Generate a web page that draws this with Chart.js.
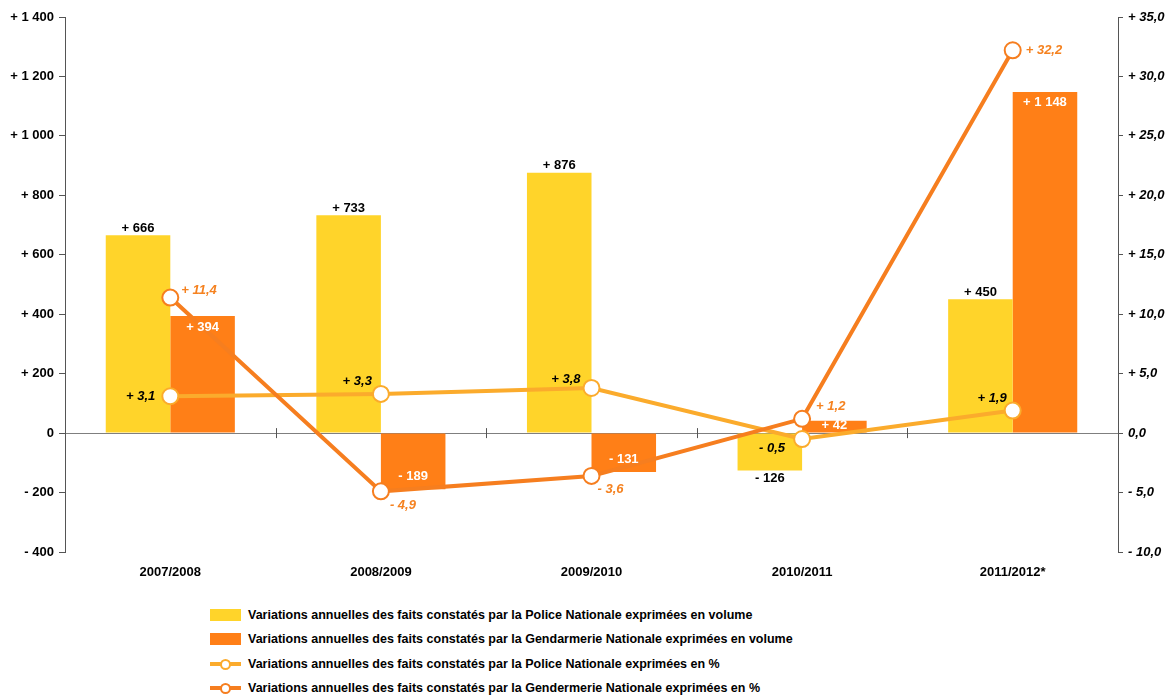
<!DOCTYPE html>
<html lang="fr">
<head>
<meta charset="UTF-8">
<title>Variations annuelles des faits constatés</title>
<script src="https://cdn.jsdelivr.net/npm/chart.js"></script>
<style>
  body { margin: 0; background: #fff; font-family: "Liberation Sans", Arial, sans-serif; }
  #wrap { position: relative; width: 1172px; height: 695px; }
  #box { position: absolute; left: 0; top: 0; width: 1172px; height: 600px; }
  .legende { position: absolute; left: 210px; top: 603px; font-size: 12.5px; font-weight: bold; color: #000; }
  .item { height: 24.3px; display: flex; align-items: center; }
  .sw { width: 31px; height: 12px; margin-right: 7px; position: relative; }
  .ln { width: 31px; height: 12px; margin-right: 7px; position: relative; }
  .ln::before { content: ""; position: absolute; left: 0; right: 0; top: 4px; height: 4px; background: var(--c); }
  .ln::after { content: ""; position: absolute; left: 10px; top: 1px; width: 7px; height: 7px; border: 2px solid var(--c); border-radius: 50%; background: #fff; }
</style>
</head>
<body>
<div id="wrap">
  <div id="box"><canvas id="graphe"></canvas></div>
  <div class="legende">
    <div class="item"><span class="sw" style="background:#FFD42A"></span>Variations annuelles des faits constatés par la Police Nationale exprimées en volume</div>
    <div class="item"><span class="sw" style="background:#FF7F17"></span>Variations annuelles des faits constatés par la Gendarmerie Nationale exprimées en volume</div>
    <div class="item"><span class="ln" style="--c:#FBAB2C"></span>Variations annuelles des faits constatés par la Police Nationale exprimées en %</div>
    <div class="item"><span class="ln" style="--c:#F67E1F"></span>Variations annuelles des faits constatés par la Gendermerie Nationale exprimées en %</div>
  </div>
</div>

<script>
// données
const annees = ['2007/2008', '2008/2009', '2009/2010', '2010/2011', '2011/2012*'];
const policeVolume = [666, 733, 876, -126, 450];
const gendarmerieVolume = [394, -189, -131, 42, 1148];
const policePct = [3.1, 3.3, 3.8, -0.5, 1.9];
const gendarmeriePct = [11.4, -4.9, -3.6, 1.2, 32.2];

// décalage des étiquettes des courbes (dx, dy)
const decalPolice = [[-15, 0], [-9, -12], [-11, -9], [-17, 9], [-6, -12]];
const decalGendarmerie = [[11, -7], [9, 14], [6, 14], [14, -12], [13, 0]];

function fmtVolume(v) {
  if (v === 0) return '0';
  const s = Math.abs(v).toString().replace(/\B(?=(\d{3})+(?!\d))/g, ' ');
  return (v > 0 ? '+ ' : '- ') + s;
}
function fmtPct(v) {
  const s = Math.abs(v).toFixed(1).replace('.', ',');
  if (Math.abs(v) < 1e-9) return s;
  return (v > 0 ? '+ ' : '- ') + s;
}

const etiquettes = {
  id: 'etiquettes',
  afterDatasetsDraw(chart) {
    const ctx = chart.ctx;
    ctx.save();
    ctx.textBaseline = 'middle';
    // barres police
    ctx.font = 'bold 13px "Liberation Sans", Arial';
    ctx.textAlign = 'center';
    chart.getDatasetMeta(0).data.forEach((el, i) => {
      const v = policeVolume[i];
      ctx.fillStyle = '#000';
      ctx.fillText(fmtVolume(v), el.x, v >= 0 ? el.y - 7 : el.y + 8);
    });
    // barres gendarmerie
    chart.getDatasetMeta(1).data.forEach((el, i) => {
      const v = gendarmerieVolume[i];
      ctx.fillStyle = '#fff';
      let y = v >= 0 ? el.y + 11 : el.y - 13;
      if (v >= 0 && el.base - el.y < 22) y = el.y + 5;
      ctx.fillText(fmtVolume(v), el.x, y);
    });
    // courbes
    ctx.font = 'italic bold 13px "Liberation Sans", Arial';
    ctx.textAlign = 'right';
    ctx.fillStyle = '#000';
    chart.getDatasetMeta(2).data.forEach((el, i) => {
      ctx.fillText(fmtPct(policePct[i]), el.x + decalPolice[i][0], el.y + decalPolice[i][1]);
    });
    ctx.textAlign = 'left';
    ctx.fillStyle = '#F58220';
    chart.getDatasetMeta(3).data.forEach((el, i) => {
      ctx.fillText(fmtPct(gendarmeriePct[i]), el.x + decalGendarmerie[i][0], el.y + decalGendarmerie[i][1]);
    });
    ctx.restore();
  },
  beforeDatasetsDraw(chart) {
    // petites graduations de l'axe des catégories sur la ligne du zéro
    const ctx = chart.ctx;
    const x = chart.scales.x;
    const y0 = chart.scales.y.getPixelForValue(0);
    ctx.save();
    ctx.strokeStyle = '#555';
    ctx.lineWidth = 1;
    for (let i = 0; i < annees.length - 1; i++) {
      const px = Math.round((x.getPixelForValue(i) + x.getPixelForValue(i + 1)) / 2) + 0.5;
      ctx.beginPath();
      ctx.moveTo(px, y0 - 5);
      ctx.lineTo(px, y0 + 5);
      ctx.stroke();
    }
    ctx.restore();
  }
};

Chart.defaults.font.family = '"Liberation Sans", Arial, sans-serif';
Chart.defaults.color = '#000';

new Chart(document.getElementById('graphe'), {
  type: 'bar',
  data: {
    labels: annees,
    datasets: [
      {
        label: 'Police volume',
        data: policeVolume,
        backgroundColor: '#FFD42A',
        yAxisID: 'y',
        order: 2
      },
      {
        label: 'Gendarmerie volume',
        data: gendarmerieVolume,
        backgroundColor: '#FF7F17',
        yAxisID: 'y',
        order: 2
      },
      {
        type: 'line',
        label: 'Police %',
        data: policePct,
        borderColor: '#FBAB2C',
        borderWidth: 4,
        pointRadius: 8,
        pointBorderWidth: 2,
        pointBackgroundColor: '#fff',
        pointBorderColor: '#FBAB2C',
        yAxisID: 'y1',
        order: 1
      },
      {
        type: 'line',
        label: 'Gendarmerie %',
        data: gendarmeriePct,
        borderColor: '#F67E1F',
        borderWidth: 4,
        pointRadius: 8,
        pointBorderWidth: 2,
        pointBackgroundColor: '#fff',
        pointBorderColor: '#F67E1F',
        yAxisID: 'y1',
        order: 0
      }
    ]
  },
  options: {
    responsive: true,
    maintainAspectRatio: false,
    animation: false,
    datasets: { bar: { barPercentage: 1, categoryPercentage: 0.613 } },
    layout: { padding: { top: 17, left: 0, right: 0, bottom: 0 } },
    plugins: { legend: { display: false }, tooltip: { enabled: false } },
    scales: {
      x: {
        grid: { display: false, drawTicks: false },
        border: { display: false },
        ticks: { padding: 13, font: { size: 13, weight: 'bold' } },
        afterFit(s) { s.height = 48; }
      },
      y: {
        position: 'left',
        min: -400, max: 1400,
        ticks: { stepSize: 200, padding: 5, font: { size: 13, weight: 'bold' }, callback: v => fmtVolume(v) },
        grid: {
          color: c => (c.tick && c.tick.value === 0 ? '#7f7f7f' : 'transparent'),
          tickColor: '#555',
          tickLength: 6
        },
        border: { display: true, color: '#555' },
        afterFit(s) { s.width = 65; }
      },
      y1: {
        position: 'right',
        min: -10, max: 35,
        ticks: { stepSize: 5, padding: 5, font: { size: 13, weight: 'bold', style: 'italic' }, callback: v => fmtPct(v) },
        grid: { drawOnChartArea: false, tickColor: '#555', tickLength: 5 },
        border: { display: true, color: '#555' },
        afterFit(s) { s.width = 54; }
      }
    }
  },
  plugins: [etiquettes]
});
</script>
</body>
</html>
